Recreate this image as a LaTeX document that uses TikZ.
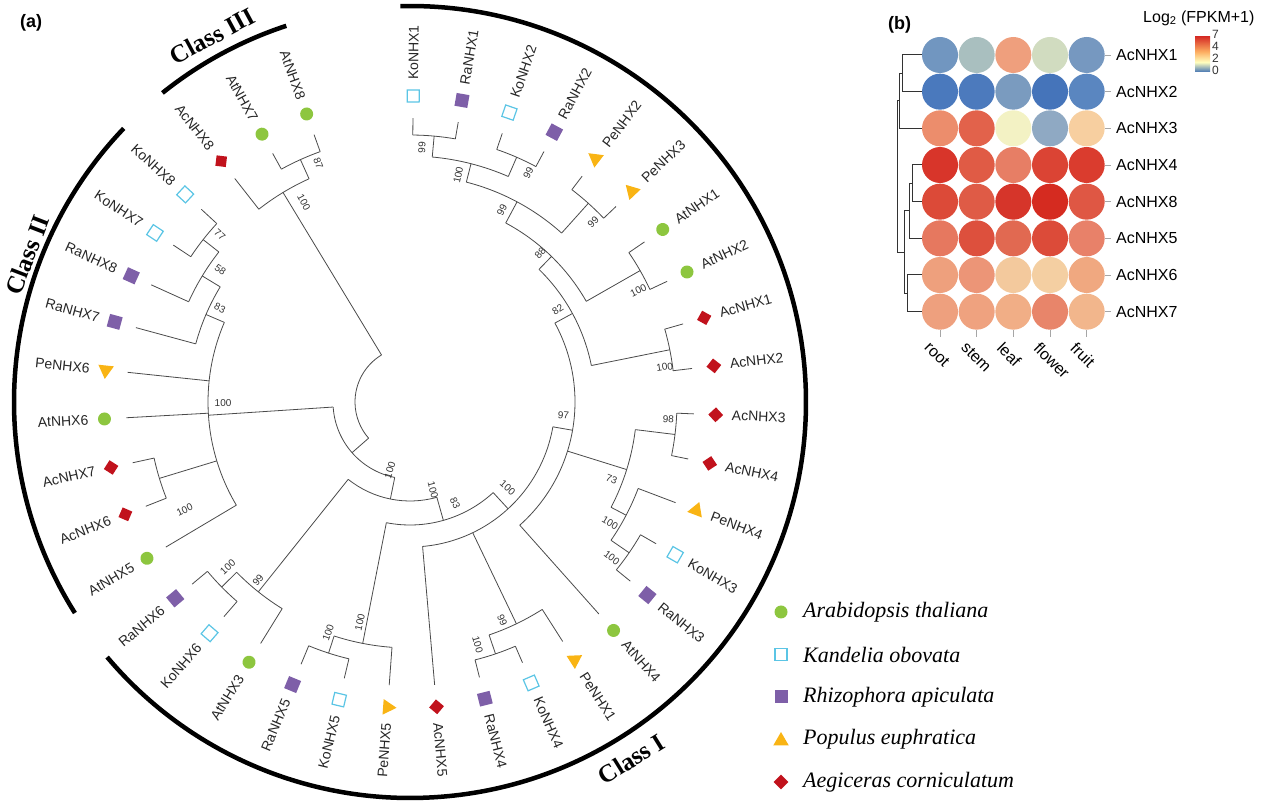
\documentclass[tikz,border=0pt]{standalone}
\usepackage{fontspec}
\setmainfont{Liberation Serif}
\setsansfont{Liberation Sans}
\usetikzlibrary{shapes.geometric}

\definecolor{atgreen}{HTML}{8DC63F}
\definecolor{kocyan}{HTML}{5BC5E5}
\definecolor{rapurple}{HTML}{7E5FA8}
\definecolor{peorange}{HTML}{F9B414}
\definecolor{acred}{HTML}{C1121C}
\definecolor{treegray}{HTML}{4A4A4A}
\definecolor{hmblue}{HTML}{4575B4}
\definecolor{hmpale}{HTML}{FFFFBF}
\definecolor{hmorange}{HTML}{FDAE61}
\definecolor{hmred}{HTML}{D73027}

\pgfdeclareverticalshading{heatbar}{100bp}{color(0bp)=(hmblue); color(25bp)=(hmblue);
  color(39bp)=(hmpale); color(54bp)=(hmorange); color(75bp)=(hmred); color(100bp)=(hmred)}

\tikzset{
  branch/.style={treegray, line width=0.8pt},
  classarc/.style={black, line width=4.5pt},
  leaflab/.style={font=\sffamily\fontsize{14}{16}\selectfont, text=black!85, inner sep=0pt},
  bootlab/.style={font=\sffamily\fontsize{10}{11}\selectfont, text=black!80, inner sep=0pt},
  classlab/.style={font=\bfseries\fontsize{25}{28}\selectfont, inner sep=0pt},
  atmark/.style={circle, fill=atgreen, minimum size=13pt, inner sep=0pt},
  komark/.style={rectangle, draw=kocyan, fill=white, line width=1.2pt, minimum size=12pt, inner sep=0pt},
  ramark/.style={rectangle, fill=rapurple, minimum size=13pt, inner sep=0pt},
  pemark/.style={regular polygon, regular polygon sides=3, fill=peorange, minimum size=18pt, inner sep=0pt},
  acmark/.style={diamond, aspect=1, fill=acred, minimum size=15pt, inner sep=0pt},
  legtext/.style={anchor=west, font=\itshape\fontsize{22}{24}\selectfont, inner sep=0pt},
  genelab/.style={anchor=west, font=\sffamily\fontsize{16}{18}\selectfont, inner sep=0pt},
  tislab/.style={anchor=north west, rotate=-45, font=\sffamily\fontsize{16}{18}\selectfont, inner sep=0pt},
  panellab/.style={anchor=west, font=\sffamily\bfseries\fontsize{18}{20}\selectfont, inner sep=0pt},
  dendro/.style={black!80, line width=1pt},
}

\def\rTip{284pt}
\def\rMark{306pt}
\def\rLab{322pt}

% angle, parent radius, radius, arc from, arc to
\newcommand{\nhxclade}[5]{%
  \draw[branch] (#1:#2pt) -- (#1:#3pt);
  \draw[branch] (#4:#3pt) arc[start angle=#4, end angle=#5, radius=#3pt];}

% angle, parent radius, marker, gene
\newcommand{\nhxleaf}[4]{%
  \draw[branch] (#1:#2pt) -- (#1:\rTip);
  \node[#3, rotate=#1] (#4) at (#1:\rMark) {};
  \pgfmathtruncatemacro{\rside}{cos(#1) >= 0}
  \ifnum\rside=1
    \node[leaflab, anchor=west, rotate=#1] (#4-lab) at (#1:\rLab) {#4};
  \else
    \node[leaflab, anchor=east, rotate=#1+180] (#4-lab) at (#1:\rLab) {#4};
  \fi}

% name, angle, radius, value
\newcommand{\bootval}[4]{%
  \pgfmathtruncatemacro{\rside}{cos(#2) >= 0}
  \ifnum\rside=1
    \node[bootlab, rotate=#2] (#1) at (#2:#3pt) {#4};
  \else
    \node[bootlab, rotate=#2+180] (#1) at (#2:#3pt) {#4};
  \fi}

\begin{document}
\begin{tikzpicture}[x=1pt, y=1pt]
  \useasboundingbox (0,0) rectangle (1264,803);

  \node[panellab] (pa) at (20,780) {(a)};
  \node[panellab] (pb) at (888,778) {(b)};

  \begin{scope}[shift={(410,401)}]
%backbone
    \draw[branch] (121.215:55pt) arc[start angle=121.215, end angle=221.16, radius=55pt];
    \nhxclade{-138.84}{55}{77}{-176.245}{-101.44}
    \nhxclade{-101.44}{77}{99}{-128.625}{-74.26}
    \nhxclade{-74.26}{99}{123}{-101.085}{-47.44}
    \nhxclade{-47.44}{123}{145}{-85.02}{-9.86}
    \nhxclade{-9.86}{145}{165}{-48.30}{28.58}

%class III
    \nhxclade{121.215}{55}{245}{128.10}{114.33}
    \nhxclade{114.33}{245}{266}{118.92}{109.74}

%class II
    \nhxclade{-176.245}{77}{202}{-203.21}{-149.28}
    \nhxclade{-203.21}{202}{222}{-195.18}{-211.245}
    \nhxclade{-211.245}{222}{243}{-204.36}{-218.13}
    \nhxclade{-218.13}{243}{263}{-213.54}{-222.72}
    \nhxclade{-163.05}{202}{262}{-158.46}{-167.64}

%class I, lower part
    \nhxclade{-128.625}{99}{243}{-121.74}{-135.51}
    \nhxclade{-135.51}{243}{264}{-130.92}{-140.10}
    \nhxclade{-101.085}{123}{246}{-94.20}{-107.97}
    \nhxclade{-107.97}{246}{264}{-103.38}{-112.56}
    \nhxclade{-64.37}{145}{246}{-57.48}{-71.25}
    \nhxclade{-71.25}{246}{266}{-66.66}{-75.84}
    \nhxclade{-17.32}{165}{227}{-6.99}{-27.645}
    \nhxclade{-6.99}{227}{267}{-2.40}{-11.58}
    \nhxclade{-27.645}{227}{244}{-20.76}{-34.53}
    \nhxclade{-34.53}{244}{266}{-29.94}{-39.12}

%class I, upper part
    \nhxclade{28.58}{165}{185}{45.80}{11.37}
    \nhxclade{11.37}{185}{265}{15.96}{6.78}
    \nhxclade{45.80}{185}{203}{61.86}{29.73}
    \nhxclade{29.73}{203}{265}{34.32}{25.14}
    \nhxclade{61.86}{203}{227}{75.63}{48.09}
    \nhxclade{48.09}{227}{267}{52.68}{43.50}
    \nhxclade{75.63}{227}{246}{84.81}{66.45}
    \nhxclade{84.81}{246}{267}{89.40}{80.22}
    \nhxclade{66.45}{246}{267}{71.04}{61.86}

%leaves
    \nhxleaf{89.40}{267}{komark}{KoNHX1}
    \nhxleaf{80.22}{267}{ramark}{RaNHX1}
    \nhxleaf{71.04}{267}{komark}{KoNHX2}
    \nhxleaf{61.86}{267}{ramark}{RaNHX2}
    \nhxleaf{52.68}{267}{pemark}{PeNHX2}
    \nhxleaf{43.50}{267}{pemark}{PeNHX3}
    \nhxleaf{34.32}{265}{atmark}{AtNHX1}
    \nhxleaf{25.14}{265}{atmark}{AtNHX2}
    \nhxleaf{15.96}{265}{acmark}{AcNHX1}
    \nhxleaf{6.78}{265}{acmark}{AcNHX2}
    \nhxleaf{-2.40}{267}{acmark}{AcNHX3}
    \nhxleaf{-11.58}{267}{acmark}{AcNHX4}
    \nhxleaf{-20.76}{244}{pemark}{PeNHX4}
    \nhxleaf{-29.94}{266}{komark}{KoNHX3}
    \nhxleaf{-39.12}{266}{ramark}{RaNHX3}
    \nhxleaf{-48.30}{165}{atmark}{AtNHX4}
    \nhxleaf{-57.48}{246}{pemark}{PeNHX1}
    \nhxleaf{-66.66}{266}{komark}{KoNHX4}
    \nhxleaf{-75.84}{266}{ramark}{RaNHX4}
    \nhxleaf{-85.02}{145}{acmark}{AcNHX5}
    \nhxleaf{-94.20}{246}{pemark}{PeNHX5}
    \nhxleaf{-103.38}{264}{komark}{KoNHX5}
    \nhxleaf{-112.56}{264}{ramark}{RaNHX5}
    \nhxleaf{-121.74}{243}{atmark}{AtNHX3}
    \nhxleaf{-130.92}{264}{komark}{KoNHX6}
    \nhxleaf{-140.10}{264}{ramark}{RaNHX6}
    \nhxleaf{-149.28}{202}{atmark}{AtNHX5}
    \nhxleaf{-158.46}{262}{acmark}{AcNHX6}
    \nhxleaf{-167.64}{262}{acmark}{AcNHX7}
    \nhxleaf{-176.82}{202}{atmark}{AtNHX6}
    \nhxleaf{174.00}{202}{pemark}{PeNHX6}
    \nhxleaf{164.82}{222}{ramark}{RaNHX7}
    \nhxleaf{155.64}{243}{ramark}{RaNHX8}
    \nhxleaf{146.46}{263}{komark}{KoNHX7}
    \nhxleaf{137.28}{263}{komark}{KoNHX8}
    \nhxleaf{128.10}{245}{acmark}{AcNHX8}
    \nhxleaf{118.92}{266}{atmark}{AtNHX7}
    \nhxleaf{109.74}{266}{atmark}{AtNHX8}

%bootstrap values
    \bootval{b1}{118}{226}{100}
    \bootval{b2}{111}{256}{87}
    \bootval{b3}{138.7}{253}{77}
    \bootval{b4}{145.2}{231}{58}
    \bootval{b5}{153.7}{212}{83}
    \bootval{b6}{180.3}{187}{100}
    \bootval{b7}{205.6}{250}{100}
    \bootval{b8}{229.5}{234}{99}
    \bootval{b9}{222.2}{246}{100}
    \bootval{b10}{250.5}{245}{100}
    \bootval{b11}{257.2}{226}{100}
    \bootval{b12}{253.6}{71}{100}
    \bootval{b13}{284.6}{91}{100}
    \bootval{b14}{294}{111}{83}
    \bootval{b15}{318.7}{130}{100}
    \bootval{b16}{-4.9}{154}{97}
    \bootval{b17}{-3.8}{259}{98}
    \bootval{b18}{-21.1}{216}{73}
    \bootval{b19}{-31.2}{234}{100}
    \bootval{b20}{-37.7}{255}{100}
    \bootval{b21}{-67.1}{237}{99}
    \bootval{b22}{-74.4}{252}{100}
    \bootval{b23}{87.3}{255}{99}
    \bootval{b24}{62.7}{258}{99}
    \bootval{b25}{78}{232}{100}
    \bootval{b26}{44.5}{257}{99}
    \bootval{b27}{64.4}{213}{99}
    \bootval{b28}{48.9}{198}{88}
    \bootval{b29}{26}{254}{100}
    \bootval{b30}{31.9}{174}{82}
    \bootval{b31}{7.8}{257}{100}

%classes
    \draw[classarc] (91.4:396pt) arc[start angle=91.4, end angle=-139.9, radius=396pt];
    \draw[classarc] (136.3:396pt) arc[start angle=136.3, end angle=212.2, radius=396pt];
    \draw[classarc] (108.2:396pt) arc[start angle=108.2, end angle=128.7, radius=396pt];
    \node[classlab, rotate=31.8] (class1) at (-58.2:420pt) {Class I};
    \node[classlab, rotate=69] (class2) at (159:410pt) {Class II};
    \node[classlab, rotate=28.4] (class3) at (118.4:416pt) {Class III};
  \end{scope}

%legend
  \node[atmark] (lg1) at (781,191) {};
  \node[komark] (lg2) at (781,148.5) {};
  \node[ramark] (lg3) at (781,106) {};
  \node[pemark] (lg4) at (781,62) {};
  \node[acmark] (lg5) at (781,21) {};
  \node[legtext] (lgt1) at (803,191) {Arabidopsis thaliana};
  \node[legtext] (lgt2) at (803,148.5) {Kandelia obovata};
  \node[legtext] (lgt3) at (803,106) {Rhizophora apiculata};
  \node[legtext] (lgt4) at (803,63.5) {Populus euphratica};
  \node[legtext] (lgt5) at (803,21) {Aegiceras corniculatum};

%heatmap
  \foreach \gene/\ca/\cb/\cc/\cd/\ce [count=\i from 0] in {
      AcNHX1/7196C0/A9BFBF/EF9F7D/D1DCC0/7698C0,
      AcNHX2/4A79BD/4C7ABD/7A9BBF/4574BA/5A86C0,
      AcNHX3/EC8D6C/E2624B/F3F2C4/8FA9C3/F7CFA0,
      AcNHX4/D8352A/E05B45/E77E65/DB4434/DA3C2E,
      AcNHX8/DC4A38/DF5B46/D6352A/D52B20/DF5744,
      AcNHX5/E6785F/DD503D/E16951/DC4B39/E88169,
      AcNHX6/EEA07D/EC9577/F3C99D/F4CFA2/F0A880,
      AcNHX7/EEA07E/EFA27F/F1AE86/E8856A/F2B68C}{
    \foreach \hex [count=\j from 0] in {\ca,\cb,\cc,\cd,\ce}{
      \definecolor{cellcol}{HTML}{\hex}
      \fill[cellcol] ({940+36.67*\j},{748-36.67*\i}) circle (18pt);
    }
    \draw[gray!70] (1105,{748-36.67*\i}) -- (1111,{748-36.67*\i});
    \node[genelab] (row\i) at (1116,{748-36.67*\i}) {\gene};
  }
  \foreach \tis [count=\j from 0] in {root,stem,leaf,flower,fruit}{
    \draw[gray!70] ({940+36.67*\j},473) -- ({940+36.67*\j},466);
    \node[tislab] (tis\j) at ({931+36.67*\j},462) {\tis};
  }

%dendrogram
  \draw[dendro] (922,748) -- (902,748) -- (902,711.33) -- (922,711.33);
  \draw[dendro] (902,729.67) -- (899,729.67) -- (899,674.67) -- (922,674.67);
  \draw[dendro] (922,638) -- (912,638) -- (912,601.33) -- (922,601.33);
  \draw[dendro] (912,619.67) -- (909,619.67) -- (909,564.67) -- (922,564.67);
  \draw[dendro] (922,528) -- (907,528) -- (907,491.33) -- (922,491.33);
  \draw[dendro] (909,592.17) -- (904,592.17) -- (904,509.67) -- (907,509.67);
  \draw[dendro] (899,702.17) -- (897,702.17) -- (897,550.92) -- (904,550.92);

%colour key
  \node[genelab] (keytitle) at (1143,785) {Log\textsubscript{2} (FPKM+1)};
  \shade[shading=heatbar] (1195,731) rectangle (1210,766);
  \node[bootlab, font=\sffamily\fontsize{12}{12}\selectfont, anchor=west] (k7) at (1212,769) {7};
  \node[bootlab, font=\sffamily\fontsize{12}{12}\selectfont, anchor=west] (k4) at (1212,757) {4};
  \node[bootlab, font=\sffamily\fontsize{12}{12}\selectfont, anchor=west] (k2) at (1212,745) {2};
  \node[bootlab, font=\sffamily\fontsize{12}{12}\selectfont, anchor=west] (k0) at (1212,733) {0};
\end{tikzpicture}
\end{document}
